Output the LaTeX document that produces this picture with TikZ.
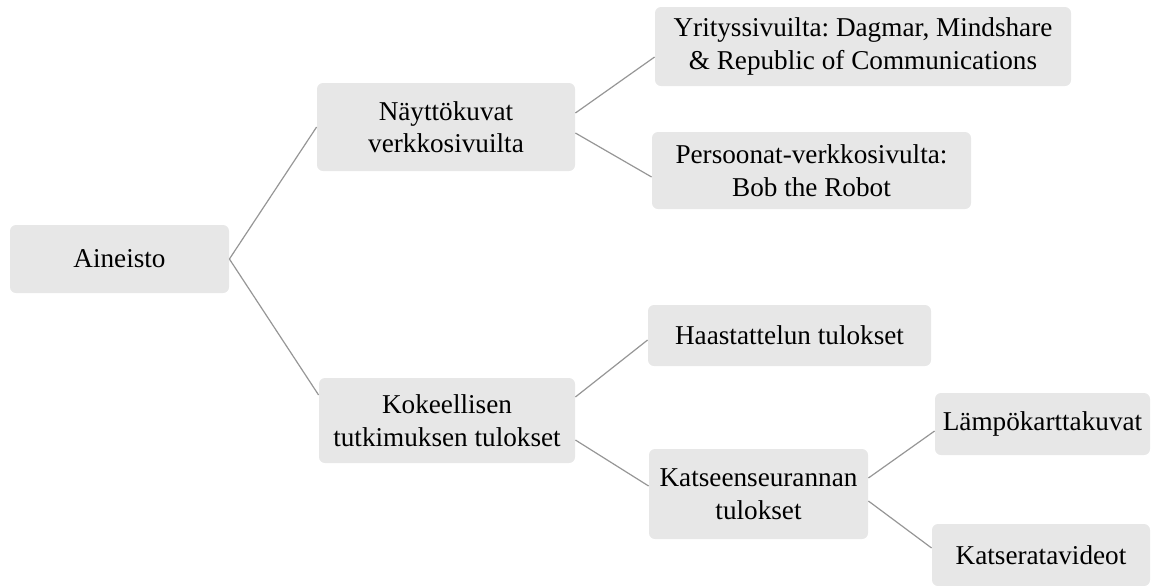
\documentclass[tikz,border=0pt]{standalone}
\usepackage{fontspec}
\setmainfont{Liberation Serif}
\usepackage{tikz}
\definecolor{boxgray}{RGB}{231, 231, 231}
\definecolor{linkgray}{RGB}{150, 150, 150}
\frenchspacing

\begin{document}
\begin{tikzpicture}[
    x=0.5pt, y=-0.5pt,
    tbox/.style={fill=boxgray, rounded corners=3pt, align=center,
                 inner sep=2pt, font=\fontsize{13.6}{16.3}\selectfont},
    link/.style={draw=linkgray, line width=0.6pt},
  ]
    \useasboundingbox (0,0) rectangle (1152,585);

    % Root
    \node[tbox, minimum width=109.5pt, minimum height=34pt] (aineisto)
      at (119.5,259) {Aineisto};

    % Level 1
    \node[tbox, minimum width=129pt, minimum height=44pt] (naytto)
      at (446,127) {Näyttökuvat\\verkkosivuilta};
    \node[tbox, minimum width=128pt, minimum height=42.5pt] (kokeel)
      at (447,420.5) {Kokeellisen\\tutkimuksen tulokset};

    % Level 2
    \node[tbox, minimum width=208pt, minimum height=39.5pt] (yritys)
      at (863,46.5) {Yrityssivuilta: Dagmar, Mindshare\\\& Republic of Communications};
    \node[tbox, minimum width=159.5pt, minimum height=38.5pt] (persoon)
      at (811.5,170.5) {Persoonat-verkkosivulta:\\Bob the Robot};
    \node[tbox, minimum width=141.5pt, minimum height=30.5pt] (haast)
      at (789.5,335.5) {Haastattelun tulokset};
    \node[tbox, minimum width=109.5pt, minimum height=45pt] (katse)
      at (758.5,494) {Katseenseurannan\\tulokset};

    % Level 3
    \node[tbox, minimum width=107.5pt, minimum height=31pt] (lampo)
      at (1042.5,424) {Lämpökarttakuvat};
    \node[tbox, minimum width=109pt, minimum height=31pt] (katser)
      at (1041,555) {Katseratavideot};

    % Connectors
    \draw[link] (aineisto.east) -- (naytto.west);
    \draw[link] (aineisto.east) -- ([yshift=12.75pt]kokeel.west);
    \draw[link] ([yshift=7pt]naytto.east) -- ([yshift=-5.25pt]yritys.west);
    \draw[link] ([yshift=-3pt]naytto.east) -- ([yshift=-3.25pt]persoon.west);
    \draw[link] ([yshift=11.75pt]kokeel.east) -- ([yshift=-2.25pt]haast.west);
    \draw[link] ([yshift=-9.75pt]kokeel.east) -- ([yshift=4pt]katse.west);
    \draw[link] ([yshift=8pt]katse.east) -- ([yshift=-3.5pt]lampo.west);
    \draw[link] ([yshift=-3.5pt]katse.east) -- ([yshift=3.5pt]katser.west);
\end{tikzpicture}
\end{document}
